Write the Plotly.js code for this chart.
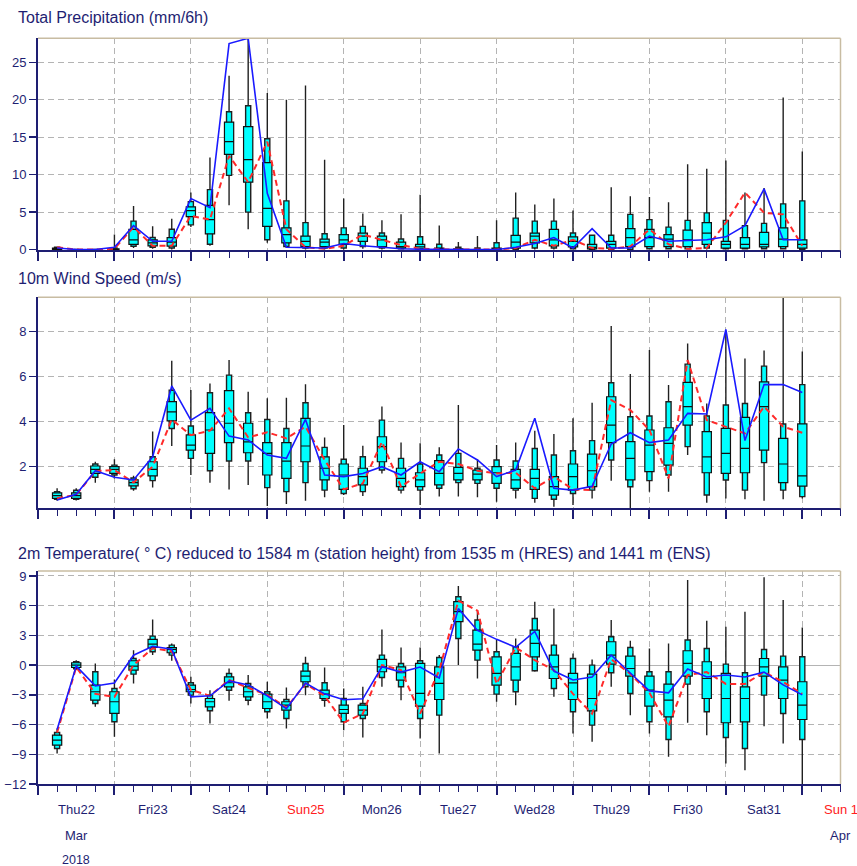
<!DOCTYPE html>
<html>
<head>
<meta charset="utf-8">
<script src="https://cdn.plot.ly/plotly-3.0.1.min.js"></script>
<style>html,body{margin:0;padding:0;background:#fff;}#chart{width:857px;height:866px;}</style>
</head>
<body>
<div id="chart"></div>
<script>
// ---------- DATA (6-hourly steps from 2018-03-22 06 UTC) ----------
const startTime = '2018-03-22 06:00';
const stepCount = 40;

const dayLabels = ['Thu22','Fri23','Sat24','Sun25','Mon26','Tue27','Wed28','Thu29','Fri30','Sat31','Sun 1'];
const dayNoons  = ['2018-03-22 12:00','2018-03-23 12:00','2018-03-24 12:00','2018-03-25 12:00','2018-03-26 12:00','2018-03-27 12:00','2018-03-28 12:00','2018-03-29 12:00','2018-03-30 12:00','2018-03-31 12:00','2018-04-01 12:00'];
const daySunday = [false,false,false,true,false,false,false,false,false,false,true];

// Total precipitation (mm/6h)
const precMin = [0,0,0,0,0.2,0.1,0,3.0,0.5,5.9,2.7,0.9,0.2,0,0,0,0.1,0,0,0,0,0,0,0,0,0,0,0,0,0,0,0,0,0,0,0,0,0,0,0];
const precP10 = [0,0,0,0,0.45,0.3,0.2,3.3,0.7,9.9,5.0,1.3,0.4,0.2,0.2,0.2,0.4,0.2,0.1,0,0,0,0,0,0,0.2,0.2,0.1,0,0,0,0.1,0.1,0.1,0.2,0.1,0.1,0.1,0.1,0.05];
const precP25 = [0,0,0,0,0.7,0.5,0.45,4.4,2.1,12.7,9.0,3.1,0.9,0.4,0.4,0.7,1.1,0.4,0.2,0.1,0,0,0,0,0.2,0.9,0.5,0.35,0.1,0.2,0.4,0.4,0.4,0.4,0.7,0.2,0.2,0.35,0.4,0.2];
const precMed = [0.1,0,0,0.05,1.3,0.9,1.0,5.2,4.0,14.4,12.0,5.5,2.0,1.1,1.0,1.3,1.8,1.3,0.4,0.35,0.05,0,0,0.1,1.0,1.8,1.3,1.1,0.3,0.7,1.6,1.6,1.4,1.3,2.2,0.7,0.7,0.7,1.4,0.7];
const precP75 = [0.2,0,0,0.1,2.7,1.3,1.6,5.7,5.9,17.0,16.4,11.6,2.9,1.8,1.4,2.0,2.2,1.8,1.0,0.7,0.2,0.1,0,0.2,1.9,2.2,2.7,1.7,0.7,1.1,2.8,2.7,2.0,2.6,3.6,1.1,1.6,2.3,2.9,1.3];
const precP90 = [0.3,0,0,0.2,3.8,1.6,2.7,6.4,8.0,18.4,19.2,14.8,6.5,3.6,2.1,2.9,3.1,2.2,1.4,1.7,0.7,0.3,0.2,0.9,4.2,3.8,3.8,2.2,1.9,1.9,4.7,4.0,3.0,3.9,4.9,3.9,3.2,3.5,6.1,6.5];
const precMax = [0.4,0.05,0.05,2.0,5.8,3.1,4.1,7.6,12.3,23.2,28.2,20.9,20.0,21.9,12.0,6.8,4.8,3.9,4.7,7.3,3.2,1.0,1.8,3.9,7.6,6.0,6.8,5.2,2.0,8.3,7.1,7.0,6.3,11.4,10.8,11.9,7.6,8.2,20.3,13.1];
const precHres = [0.2,0,0,0.3,3.2,1.1,1.1,6.8,5.6,27.5,28.2,7.5,0.3,0.2,0.2,0.8,0.5,0.3,0.1,0.05,0,0,0,0,0.3,0.8,1.6,0.2,2.8,0.2,0.2,1.8,1.1,1.2,1.3,1.7,3.2,8.1,1.3,1.3];
const precCtrl = [0.3,0,0,0.1,3.0,0.5,0.5,4.5,4.0,12.5,9.0,14.4,2.7,0.3,0.1,0.5,2.0,1.3,0.6,0.1,0,0,0,0,0.2,1.3,0.5,1.3,0.2,0.1,0.4,2.7,0.7,0.1,0.2,3.6,7.6,4.9,4.7,0.5];

// 10m wind speed (m/s)
const windMin = [0.49,0.5,1.29,1.48,0.93,1.08,2.92,1.63,1.29,0.99,1.19,0.25,0.34,0.49,0.64,0.74,0.7,1.7,0.81,0.3,0.67,0.67,0.64,0.44,0.59,0.4,0.22,0.3,0.59,1.38,0.1,0.89,0.89,2.52,0.4,0.59,0.55,0.49,0.55,0.59];
const windP10 = [0.55,0.55,1.53,1.63,1.02,1.38,3.7,2.37,1.82,2.25,2.25,1.07,0.89,1.29,0.96,0.81,0.89,1.85,0.96,0.96,1.04,1.29,1.26,1.04,0.96,0.59,0.55,0.81,0.96,2.3,1.11,1.38,1.63,2.89,0.74,1.41,0.96,2.18,0.96,0.67];
const windP25 = [0.59,0.59,1.7,1.7,1.15,1.59,4.04,2.74,2.59,3.07,2.62,1.63,1.48,2.22,1.41,0.99,1.19,2.22,1.11,1.11,1.19,1.41,1.41,1.26,1.04,0.99,0.74,0.96,1.11,3.07,1.41,1.78,2.07,3.85,1.73,1.7,1.73,2.74,1.29,1.14];
const windMed = [0.71,0.71,1.88,1.88,1.29,1.88,4.44,2.96,3.63,3.93,3.1,2.59,2.25,2.92,1.93,1.63,1.56,2.89,1.48,1.41,1.7,1.7,1.67,1.73,1.41,1.48,1.11,1.56,1.82,3.85,2.37,2.96,3.04,4.67,2.44,2.59,2.81,4.67,2.12,1.59];
const windP75 = [0.84,0.84,2.03,2.0,1.42,2.22,4.89,3.41,4.4,5.38,3.93,3.07,3.07,4.15,2.44,2.12,1.93,3.33,1.93,1.73,2.27,1.97,1.85,2.0,1.88,1.88,1.56,2.12,2.56,5.11,3.11,3.63,3.73,5.75,3.56,3.7,4.19,5.77,3.26,3.9];
const windP90 = [0.89,0.95,2.12,2.07,1.5,2.44,5.4,3.81,5.29,6.07,4.4,4.1,3.7,4.84,2.86,2.33,2.44,4.07,2.37,2.12,2.52,2.59,1.93,2.3,2.25,2.81,2.52,2.71,3.16,5.73,4.22,4.25,4.89,6.56,4.25,4.74,4.81,6.47,3.9,5.65];
const windMax = [1.04,1.04,2.22,2.33,1.6,3.56,6.71,5.41,5.7,6.74,5.33,5.04,5.07,5.67,3.3,3.85,2.93,4.67,3.07,3.04,2.86,4.74,2.33,2.96,3.07,3.6,3.45,4.15,4.84,8.25,6.12,7.19,5.63,7.48,4.81,8.0,6.81,7.16,9.5,7.12];
const windHres = [0.52,0.77,1.82,1.53,1.41,2.44,5.59,4.07,4.59,3.36,3.19,2.52,2.37,4.1,1.63,1.56,1.7,2.0,1.63,2.22,1.78,2.79,2.3,1.56,1.85,4.15,1.04,0.96,1.13,3.01,3.51,3.07,3.19,4.37,4.34,8.1,3.16,5.65,5.65,5.3];
const windCtrl = [0.6,0.75,1.8,1.85,1.3,2.0,4.1,3.4,3.6,4.59,3.3,3.53,3.26,3.78,2.3,0.99,1.26,3.1,1.11,1.7,2.22,2.12,1.82,1.7,1.73,1.04,1.56,0.99,0.96,4.96,4.52,3.63,1.48,6.74,4.07,3.78,3.48,4.67,3.78,3.51];

// 2m temperature (deg C)
const tempMin = [-8.92,-0.5,-4.21,-7.24,-1.85,1.01,0.44,-3.87,-5.89,-3.6,-4.04,-5.39,-6.4,-3.03,-4.21,-6.57,-7.31,-2.19,-3.54,-7.41,-8.92,0,-1.35,-3.7,-4.04,-0.67,-3.2,-6.9,-7.74,-2.19,-5.05,-6.9,-9.26,-5.82,-7.07,-9.93,-10.6,-6.16,-7.91,-12];
const tempP10 = [-8.42,-0.37,-3.87,-5.72,-0.91,1.35,1.01,-3.03,-4.61,-2.53,-3.54,-4.71,-5.39,-2.19,-3.54,-5.72,-5.39,-1.25,-2.19,-5.39,-5.05,2.69,0.5,-2.93,-2.69,-0.57,-2.36,-4.71,-6.06,-0.77,-2.86,-5.72,-7.51,-1.92,-4.71,-7.31,-8.42,-3.03,-4.88,-7.51];
const tempP25 = [-8.08,-0.24,-3.54,-4.88,-0.5,1.78,1.25,-2.69,-4.21,-2.19,-3.2,-4.38,-4.55,-1.68,-3.37,-4.88,-5.05,-0.67,-1.52,-4.14,-3.47,4.38,1.52,-2.02,-1.52,0.84,-1.35,-3.47,-4.61,0.1,-1.11,-4.14,-5.22,-1.11,-3.37,-5.82,-5.72,-1.11,-3.37,-5.49];
const tempMed = [-7.58,0,-2.69,-3.7,-0.1,2.12,1.58,-2.46,-3.7,-1.78,-2.69,-3.7,-4.04,-1.11,-2.93,-4.48,-4.55,-0.17,-0.77,-2.86,-1.85,5.39,2.12,-0.84,-0.17,2.19,-0.17,-1.8,-3.37,1.01,-0.34,-2.53,-3.54,0.17,-1.35,-3.37,-3.37,-0.17,-1.52,-4.04];
const tempP75 = [-7.07,0.24,-2.02,-2.69,0.44,2.59,1.78,-2.02,-3.37,-1.18,-2.19,-2.93,-3.7,-0.61,-2.53,-4.04,-4.04,0.57,-0.17,0.17,-0.17,6.4,3.54,0.84,1.18,3.54,1.01,-0.84,-0.91,2.36,0.91,-1.11,-1.92,1.45,0.34,-0.84,-2.19,0.67,-0.17,-1.68];
const tempP90 = [-6.8,0.34,-0.67,-2.36,0.67,2.93,2.02,-1.78,-3.03,-0.84,-1.85,-2.69,-3.47,0.17,-1.78,-3.37,-3.87,1.01,0.17,0.44,0.77,6.9,4.55,1.35,1.85,4.71,2.02,0.67,0,2.86,1.78,-0.67,-0.67,2.53,1.68,0.1,-0.77,1.58,0.91,0.84];
const tempMax = [-6.4,0.5,0.17,-1.45,1.5,4.61,2.19,-1.18,-2.53,-0.34,-1.01,-1.68,-2.26,0.84,-0.24,-2.36,-2.19,3.6,1.78,1.78,1.01,7.98,5.56,2.53,2.69,6.4,5.72,1.18,0.57,4.55,2.46,1.68,2.19,8.59,4.48,3.87,5.39,8.86,6.57,3.8];
const tempHres = [-6.5,-0.1,-2.1,-1.8,1.0,1.9,1.6,-3.2,-3.1,-1.6,-2.0,-3.1,-4.4,-1.8,-2.9,-3.5,-3.4,-0.17,-0.7,-0.2,-1.3,5.7,3.5,2.6,1.8,3.4,-0.6,-1.5,-1.2,1.0,-0.8,-2.6,-2.8,-0.4,-1.2,-1.0,-1.2,-0.7,-2.0,-3.0];
const tempCtrl = [-6.8,-0.2,-2.9,-3.2,0.0,1.7,1.4,-2.5,-3.1,-1.5,-2.3,-3.0,-4.3,-1.9,-3.1,-5.8,-4.9,0.0,-0.5,-4.9,-0.5,6.5,5.5,-1.9,1.8,0.5,-0.5,-2.9,-4.9,0.6,-0.9,-2.8,-6.2,-1.0,-0.7,-1.9,-1.9,-0.7,-1.7,-2.9];

// ---------- BUILD ----------
const times = [];
(function(){
  const t0 = new Date(startTime.replace(' ', 'T') + ':00Z').getTime();
  for (let i = 0; i < stepCount; i++) {
    times.push(new Date(t0 + i * 6 * 3600e3).toISOString().slice(0, 16).replace('T', ' '));
  }
})();

const NAVY = '#1e1e72';
const GRID = '#b4b4b4';
const TAN = '#c8bca2';
const CYAN = '#00ffff';
const FONT = 'Liberation Sans, Arial, Helvetica, sans-serif';
const HOUR = 3600e3;
const W = 857, H = 866;

function boxTraces(mn, p10, p25, med, p75, p90, mx, xa, ya) {
  return [
    {type:'box', x:times, q1:p10, median:med, q3:p90, lowerfence:mn, upperfence:mx,
     width:1.6*HOUR, fillcolor:CYAN, line:{color:'#202020', width:1.4}, whiskerwidth:0,
     boxpoints:false, xaxis:xa, yaxis:ya, hoverinfo:'skip', showlegend:false},
    {type:'box', x:times, q1:p25, median:med, q3:p75, lowerfence:p25, upperfence:p75,
     width:2.9*HOUR, fillcolor:CYAN, line:{color:'#101010', width:1.2}, whiskerwidth:0,
     boxpoints:false, xaxis:xa, yaxis:ya, hoverinfo:'skip', showlegend:false}
  ];
}
function lineTraces(ctrl, hres, xa, ya) {
  return [
    {type:'scatter', mode:'lines', x:times, y:ctrl, xaxis:xa, yaxis:ya,
     line:{color:'#ff2a2a', width:2, dash:'6px,4px'}, hoverinfo:'skip', showlegend:false},
    {type:'scatter', mode:'lines', x:times, y:hres, xaxis:xa, yaxis:ya,
     line:{color:'#1a1aff', width:1.6}, hoverinfo:'skip', showlegend:false}
  ];
}

const data = [].concat(
  boxTraces(precMin, precP10, precP25, precMed, precP75, precP90, precMax, 'x', 'y'),
  lineTraces(precCtrl, precHres, 'x', 'y'),
  boxTraces(windMin, windP10, windP25, windMed, windP75, windP90, windMax, 'x2', 'y2'),
  lineTraces(windCtrl, windHres, 'x2', 'y2'),
  boxTraces(tempMin, tempP10, tempP25, tempMed, tempP75, tempP90, tempMax, 'x3', 'y3'),
  lineTraces(tempCtrl, tempHres, 'x3', 'y3')
);

const xDomain = [38/W, 840.5/W];
function py(top, bottom) { return [1 - bottom/H, 1 - top/H]; }

function xAxis(anchor) {
  return {
    domain: xDomain, anchor: anchor, type: 'date',
    range: ['2018-03-22 00:00', '2018-04-01 12:00'],
    showline: true, linecolor: NAVY, linewidth: 2,
    ticks: 'outside', ticklen: 9, tickwidth: 2, tickcolor: NAVY,
    tick0: '2018-03-22', dtick: 86400000,
    showticklabels: false,
    showgrid: true, gridcolor: GRID, gridwidth: 1, griddash: '6px,4px',
    zeroline: false, fixedrange: true,
    minor: {dtick: 6*HOUR, ticks: 'outside', ticklen: 6, tickwidth: 1, tickcolor: NAVY, showgrid: false}
  };
}
function yAxis(anchor, domain, range, tick0, dtick, zero) {
  return {
    domain: domain, anchor: anchor, range: range, tick0: tick0, dtick: dtick,
    showline: true, linecolor: NAVY, linewidth: 2,
    ticks: 'outside', ticklen: 7, tickwidth: 1.5, tickcolor: NAVY,
    tickfont: {family: FONT, size: 13, color: NAVY},
    showgrid: true, gridcolor: GRID, gridwidth: 1, griddash: '6px,4px',
    zeroline: zero, zerolinecolor: GRID, zerolinewidth: 1, fixedrange: true
  };
}

const shapes = [];
[['x','y'],['x2','y2'],['x3','y3']].forEach(function(p){
  shapes.push({type:'line', xref:p[0]+' domain', yref:p[1]+' domain', x0:0, x1:1, y0:1, y1:1, line:{color:TAN, width:1.5}});
  shapes.push({type:'line', xref:p[0]+' domain', yref:p[1]+' domain', x0:1, x1:1, y0:0, y1:1, line:{color:TAN, width:1.5}});
});

const titles = [
  {text:'Total Precipitation (mm/6h)', y:17},
  {text:'10m Wind Speed (m/s)', y:278},
  {text:'2m Temperature( ° C) reduced to 1584 m (station height) from 1535 m (HRES) and 1441 m (ENS)', y:553}
];
const annotations = titles.map(function(t){
  return {xref:'paper', yref:'paper', x:16/W, y:1 - t.y/H, xanchor:'left', yanchor:'middle',
          text:t.text, showarrow:false, font:{family:FONT, size:16, color:NAVY}};
});
dayLabels.forEach(function(lbl, i){
  annotations.push({xref:'x3', yref:'paper', x:dayNoons[i], y:1 - 809/H, xanchor:'center', yanchor:'middle',
    text:lbl, showarrow:false, font:{family:FONT, size:13, color: daySunday[i] ? '#ff2020' : NAVY}});
});
annotations.push({xref:'x3', yref:'paper', x:dayNoons[0], y:1 - 835/H, xanchor:'center', yanchor:'middle',
  text:'Mar', showarrow:false, font:{family:FONT, size:13, color:NAVY}});
annotations.push({xref:'x3', yref:'paper', x:dayNoons[0], y:1 - 860/H, xanchor:'center', yanchor:'middle',
  text:'2018', showarrow:false, font:{family:FONT, size:12.5, color:NAVY}});
annotations.push({xref:'x3', yref:'paper', x:dayNoons[10], y:1 - 835/H, xanchor:'center', yanchor:'middle',
  text:'Apr', showarrow:false, font:{family:FONT, size:13, color:NAVY}});

const layout = {
  width: W, height: H,
  margin: {l:0, r:0, t:0, b:0},
  paper_bgcolor: '#ffffff', plot_bgcolor: '#ffffff',
  boxmode: 'overlay', showlegend: false, hovermode: false,
  font: {family: FONT, color: NAVY},
  xaxis: xAxis('y'), xaxis2: xAxis('y2'), xaxis3: xAxis('y3'),
  yaxis:  yAxis('x',  py(38.3, 250.3), [-0.1, 28.2], 0, 5, false),
  yaxis2: yAxis('x2', py(297.3, 508.3), [0.15, 9.53], 0, 2, false),
  yaxis3: yAxis('x3', py(571, 784), [-12, 9.5], 0, 3, true),
  shapes: shapes,
  annotations: annotations
};

Plotly.newPlot('chart', data, layout, {staticPlot: true, displayModeBar: false});
</script>
</body>
</html>
